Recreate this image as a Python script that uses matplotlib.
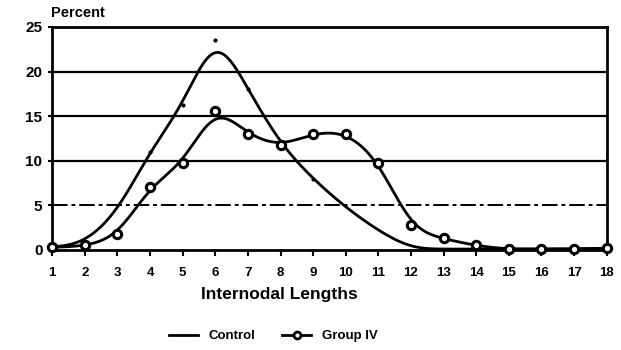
import numpy as np
import matplotlib
matplotlib.use("Agg")
import matplotlib.pyplot as plt
from matplotlib.lines import Line2D

lengths = list(range(1, 19))
control = [0.3, 1.0, 4.5, 11.0, 16.3, 23.5, 18.0, 12.0, 8.0, 4.8, 2.2, 0.3,
           0.1, 0.1, 0.1, 0.1, 0.1, 0.2]
group_iv = [0.3, 0.5, 1.8, 7.0, 9.8, 15.6, 13.0, 11.8, 13.0, 13.0, 9.8, 2.8,
            1.3, 0.5, 0.1, 0.1, 0.1, 0.2]
yticks = [0, 5, 10, 15, 20, 25]


def smooth(x, y, n=40, sigma=0.4):
    # catmull-rom curve, then a light gaussian blur so it reads like a fitted line
    x = np.asarray(x, float)
    y = np.asarray(y, float)
    px = np.concatenate([[2 * x[0] - x[1]], x, [2 * x[-1] - x[-2]]])
    py = np.concatenate([[y[0]], y, [y[-1]]])
    xs, ys = [], []
    t = np.linspace(0, 1, n, endpoint=False)
    for i in range(1, len(px) - 2):
        for arr, out in ((px, xs), (py, ys)):
            a, b, c, d = arr[i - 1], arr[i], arr[i + 1], arr[i + 2]
            out.extend(0.5 * (2 * b + (-a + c) * t + (2 * a - 5 * b + 4 * c - d) * t ** 2
                              + (-a + 3 * b - 3 * c + d) * t ** 3))
    xs.append(x[-1])
    ys.append(y[-1])
    xs, ys = np.array(xs), np.array(ys)
    step = (x[1] - x[0]) / n
    half = int(3 * sigma / step)
    k = np.exp(-0.5 * (np.arange(-half, half + 1) * step / sigma) ** 2)
    k /= k.sum()
    padded = np.concatenate([np.full(half, ys[0]), ys, np.full(half, ys[-1])])
    return xs, np.convolve(padded, k, mode="valid")


font = {"family": "Liberation Sans", "weight": "bold"}

fig = plt.figure(figsize=(6.21, 3.5), dpi=100)
ax = fig.add_axes([0.084, 0.286, 0.893, 0.637])

for v in [10, 15, 20, 25]:
    ax.axhline(v, color="black", lw=1.6, zorder=1)
ax.axhline(5, color="black", lw=1.4, ls=(0, (8, 2, 2, 2)), zorder=1)

cx, cy = smooth(lengths, control)
ax.plot(cx, cy, color="black", lw=2, zorder=3, clip_on=False)
ax.plot(lengths[3:9], control[3:9], ls="none", marker="o", ms=2, color="black",
        zorder=4)
gx, gy = smooth(lengths, group_iv)
ax.plot(gx, gy, color="black", lw=2, zorder=3, clip_on=False)
ax.plot(lengths, group_iv, ls="none", marker="o", ms=6, mfc="white",
        mec="black", mew=2.2, zorder=4, clip_on=False)

ax.set_xlim(1, 18)
ax.set_ylim(0, 25)
ax.set_xticks(lengths)
ax.set_xticklabels([str(v) for v in lengths], fontdict=font, fontsize=9.5)
ax.set_yticks(yticks)
ax.set_yticklabels([str(v) for v in yticks], fontdict=font, fontsize=11)
ax.tick_params(axis="x", length=4, width=1.5, pad=8)
ax.tick_params(axis="y", length=3, width=1.5, pad=4)
for s in ax.spines.values():
    s.set_linewidth(2)

ax.text(-0.003, 1.03, "Percent", transform=ax.transAxes, fontdict=font,
        fontsize=10.5, ha="left", va="bottom")
ax.set_xlabel("Internodal Lengths", fontdict=font, fontsize=12.5, labelpad=5)
ax.xaxis.set_label_coords(0.41, -0.165)

handles = [Line2D([], [], color="black", lw=2),
           Line2D([], [], color="black", lw=2, marker="o", ms=5, mfc="white",
                  mec="black", mew=2)]
fig.legend(handles, ["Control", "Group IV"], loc="center",
           bbox_to_anchor=(0.44, 0.04), ncol=2, frameon=False,
           prop={"family": "Liberation Sans", "weight": "bold", "size": 9.5},
           handlelength=2.2, columnspacing=2.0)

fig.savefig("out.png", dpi=100)
